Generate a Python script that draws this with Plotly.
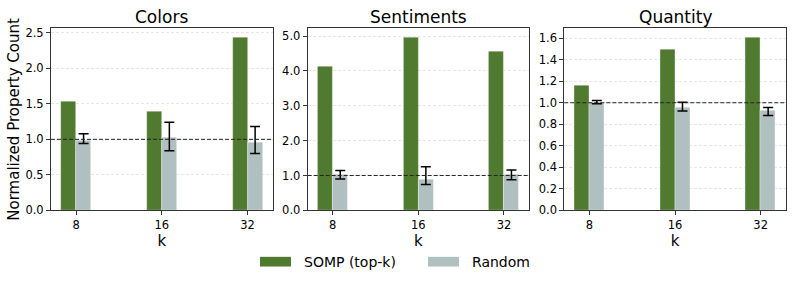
import plotly.graph_objects as go
from plotly.subplots import make_subplots

# ---- data ----
k_labels = ["8", "16", "32"]
panel_titles = ["Colors", "Sentiments", "Quantity"]

somp_colors = [1.53, 1.39, 2.44]
somp_sentiments = [4.13, 4.97, 4.57]
somp_quantity = [1.16, 1.495, 1.61]

random_colors = [0.99, 1.02, 0.96]
random_colors_hi = [1.08, 1.24, 1.18]
random_colors_lo = [0.94, 0.84, 0.80]

random_sentiments = [1.02, 0.89, 1.02]
random_sentiments_hi = [1.14, 1.25, 1.16]
random_sentiments_lo = [0.90, 0.74, 0.88]

random_quantity = [1.005, 0.958, 0.932]
random_quantity_hi = [1.02, 1.005, 0.955]
random_quantity_lo = [0.99, 0.923, 0.882]

y_dticks = [0.5, 1.0, 0.2]
baseline = 1.0

# ---- style ----
GREEN = "#4f7a2f"
GRAY = "#b0bfbf"
FONT = "DejaVu Sans"
BAR_W = 0.175

panels = [
    (somp_colors, random_colors, random_colors_hi, random_colors_lo),
    (somp_sentiments, random_sentiments, random_sentiments_hi, random_sentiments_lo),
    (somp_quantity, random_quantity, random_quantity_hi, random_quantity_lo),
]

fig = make_subplots(rows=1, cols=3)
xpos = list(range(len(k_labels)))

for i, (somp, rnd, hi, lo) in enumerate(panels, start=1):
    fig.add_trace(go.Bar(
        x=xpos, y=somp, name="SOMP (top-k)", width=BAR_W, offset=-BAR_W,
        marker=dict(color=GREEN, line=dict(color="rgba(255,255,255,0.6)", width=0.6)),
        showlegend=False,
    ), row=1, col=i)
    fig.add_trace(go.Bar(
        x=xpos, y=rnd, name="Random", width=BAR_W, offset=0,
        marker=dict(color=GRAY, line=dict(color="rgba(255,255,255,0.6)", width=0.6)),
        error_y=dict(type="data", symmetric=False,
                     array=[h - v for h, v in zip(hi, rnd)],
                     arrayminus=[v - l for l, v in zip(lo, rnd)],
                     color="black", thickness=1.5, width=5),
        showlegend=False,
    ), row=1, col=i)

domains_x = [(51/793, 272.7/793), (307.7/793, 529/793), (564.3/793, 785.7/793)]
dom_y = (75/290, 262.7/290)

for i in range(3):
    ax = "" if i == 0 else str(i + 1)
    somp = panels[i][0]
    ymax = max(max(somp), max(panels[i][2])) * 1.05
    fig.layout["xaxis" + ax].update(
        domain=domains_x[i], range=[-BAR_W - 0.1175, 2 + BAR_W + 0.1175],
        tickmode="array", tickvals=xpos, ticktext=k_labels,
        showline=True, mirror=True, linecolor="#333333", linewidth=1,
        ticks="outside", ticklen=4, tickcolor="#333333", showgrid=False,
        tickfont=dict(family=FONT, size=11.5, color="black"),
        title=dict(text="k", font=dict(family=FONT, size=15, color="black"), standoff=3),
        zeroline=False,
    )
    fig.layout["yaxis" + ax].update(
        domain=dom_y, range=[0, ymax], dtick=y_dticks[i], tick0=0, tickformat=".1f",
        showline=True, mirror=True, linecolor="#333333", linewidth=1,
        ticks="outside", ticklen=4, tickcolor="#333333",
        showgrid=True, gridcolor="#e6e6e6", griddash="3px,2px", gridwidth=0.8,
        tickfont=dict(family=FONT, size=11.5, color="black"),
        zeroline=False,
    )
    # baseline reference line
    fig.add_shape(type="line", xref=f"x{ax} domain", yref=f"y{ax}",
                  x0=0, x1=1, y0=baseline, y1=baseline,
                  line=dict(color="#222222", width=1, dash="4px,2px"), layer="above")
    # panel title
    fig.add_annotation(text=panel_titles[i], xref="paper", yref="paper",
                       x=(domains_x[i][0] + domains_x[i][1]) / 2, y=(290 - 15) / 290,
                       xanchor="center", yanchor="middle", showarrow=False,
                       font=dict(family=FONT, size=17, color="black"))

fig.layout.yaxis.title = dict(text="Normalized Property Count",
                              font=dict(family=FONT, size=15, color="black"), standoff=2)

# legend (drawn manually to mimic wide rectangular swatches)
legend_items = [("SOMP (top-k)", GREEN, 260, 302), ("Random", GRAY, 428, 470)]
for label, color, sx, tx in legend_items:
    fig.add_shape(type="rect", xref="paper", yref="paper",
                  x0=sx / 793, x1=(sx + 31) / 793,
                  y0=(290 - 273) / 290, y1=(290 - 263) / 290,
                  fillcolor=color, line=dict(width=0))
    fig.add_annotation(text=label, xref="paper", yref="paper",
                       x=tx / 793, y=(290 - 268) / 290,
                       xanchor="left", yanchor="middle", showarrow=False,
                       font=dict(family=FONT, size=14, color="black"))

fig.update_layout(
    width=793, height=290,
    margin=dict(l=0, r=0, t=0, b=0),
    plot_bgcolor="white", paper_bgcolor="white",
    barmode="overlay", bargap=0,
    font=dict(family=FONT),
    showlegend=False,
)

fig.write_html("out.html", config={"displayModeBar": False},
               post_script="document.body.style.margin='0';document.body.style.overflow='hidden';")
